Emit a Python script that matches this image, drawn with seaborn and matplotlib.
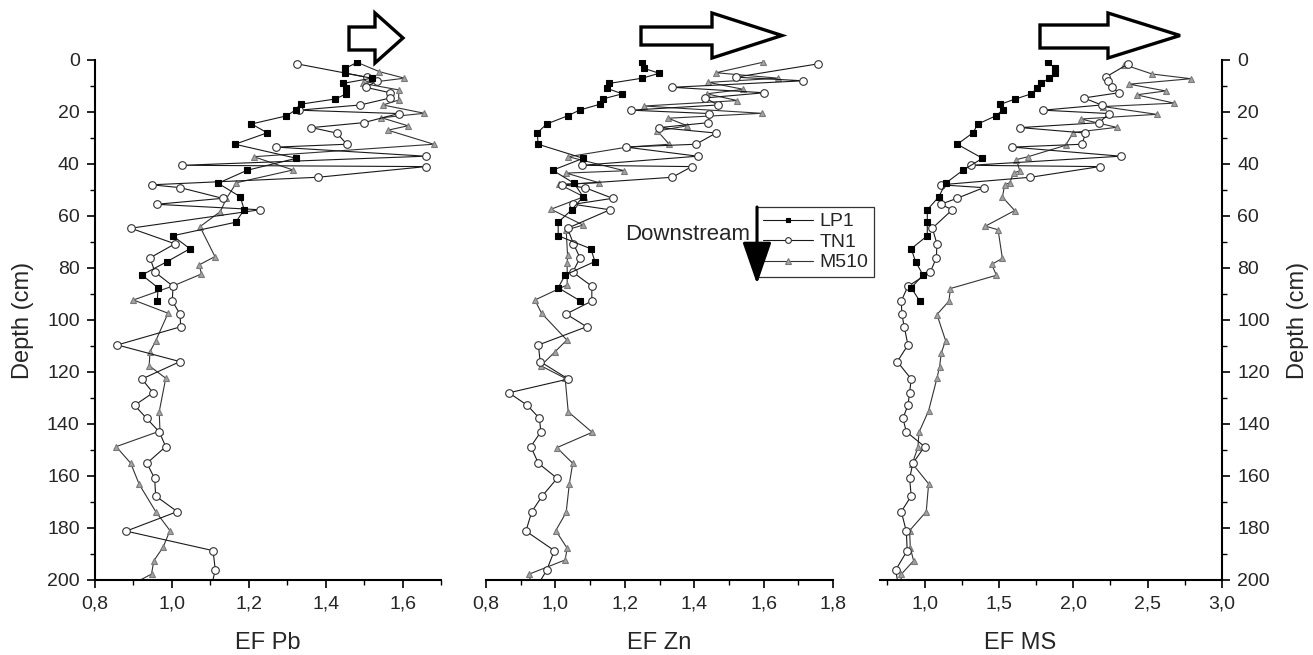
#!/usr/bin/env python
# -*- coding: utf-8 -*-

import matplotlib
matplotlib.use("Agg")
import matplotlib.pyplot as plt
from matplotlib.patches import Polygon, FancyArrowPatch
from matplotlib.ticker import MultipleLocator, FuncFormatter
import seaborn as sns

# ---- data ---------------------------------------------------------------
# LP1 core (same sample depths in every panel)
depth_lp1 = [0.9, 3.2, 5.1, 7.0, 9.0, 10.9, 13.0, 15.0, 17.0, 19.2, 21.5, 24.6, 28.0,
             32.4, 37.8, 42.4, 47.4, 52.6, 57.6, 62.4, 67.6, 72.6, 77.5, 82.7, 87.6, 92.6]
lp1_pb = [1.482, 1.451, 1.451, 1.520, 1.445, 1.454, 1.454, 1.425, 1.335, 1.322, 1.298, 1.207, 1.248,
          1.164, 1.324, 1.196, 1.120, 1.178, 1.188, 1.166, 1.002, 1.047, 0.988, 0.922, 0.964, 0.962]
lp1_zn = [1.250, 1.255, 1.299, 1.250, 1.155, 1.148, 1.193, 1.136, 1.129, 1.071, 1.035, 0.975, 0.948,
          0.950, 1.080, 0.992, 1.054, 1.080, 1.047, 1.008, 1.008, 1.102, 1.114, 1.028, 1.008, 1.071]
lp1_ms = [1.830, 1.880, 1.880, 1.837, 1.786, 1.756, 1.718, 1.611, 1.510, 1.527, 1.478, 1.359, 1.325,
          1.220, 1.389, 1.258, 1.141, 1.096, 1.018, 1.018, 1.018, 0.910, 0.939, 0.989, 0.910, 0.966]

# TN1 core
depth_tn1 = [1.5, 6.6, 8.0, 10.5, 12.6, 14.6, 17.3, 19.3, 20.6, 24.1, 26.0, 28.1, 32.4, 33.5,
             37.0, 40.5, 41.0, 45.1, 48.0, 49.1, 53.2, 55.5, 57.6, 64.7, 70.7, 76.1, 81.6, 87.0,
             92.7, 97.7, 102.6, 109.6, 116.0, 122.7, 128.0, 132.8, 137.8, 143.0, 148.7, 155.1,
             160.9, 167.7, 173.7, 181.2, 188.7, 196.2, 204.0]
tn1_pb = [1.326, 1.507, 1.534, 1.504, 1.568, 1.568, 1.490, 1.330, 1.590, 1.499, 1.363, 1.429, 1.455, 1.272,
          1.660, 1.027, 1.661, 1.380, 0.947, 1.022, 1.132, 0.960, 1.229, 0.893, 1.008, 0.943, 0.956, 1.003,
          1.001, 1.021, 1.023, 0.858, 1.021, 0.922, 0.951, 0.903, 0.934, 0.967, 0.984, 0.935,
          0.955, 0.958, 1.014, 0.881, 1.107, 1.113, 1.100]
tn1_zn = [1.756, 1.520, 1.714, 1.337, 1.602, 1.431, 1.469, 1.217, 1.444, 1.441, 1.299, 1.463, 1.405, 1.203,
          1.410, 1.076, 1.393, 1.337, 1.020, 1.085, 1.165, 1.052, 1.157, 1.035, 1.052, 1.071, 1.050, 1.105,
          1.105, 1.031, 1.090, 0.951, 0.956, 1.037, 0.866, 0.919, 0.954, 0.958, 0.929, 0.951,
          1.005, 0.962, 0.932, 0.915, 0.997, 0.975, 0.940]
tn1_ms = [2.369, 2.217, 2.235, 2.261, 2.306, 2.071, 2.190, 1.797, 2.241, 2.174, 1.644, 2.082, 2.059, 1.590,
          2.320, 1.310, 2.178, 1.712, 1.108, 1.397, 1.218, 1.108, 1.186, 1.052, 1.083, 1.079, 1.038, 0.888,
          0.843, 0.847, 0.863, 0.888, 0.816, 0.910, 0.899, 0.888, 0.854, 0.877, 1.000, 0.921,
          0.899, 0.910, 0.843, 0.877, 0.883, 0.805, 0.830]

# M510 core (points read separately in each panel)
depth_m510_pb = [0.8, 4.5, 7.0, 9.0, 11.5, 15.4, 17.3, 20.5, 22.2, 25.3, 27.0, 32.4, 37.2, 42.3, 47.2,
                 53.2, 58.3, 64.1, 75.6, 78.8, 82.3, 86.9, 92.3, 97.4, 108.0, 112.2, 117.6, 122.4,
                 135.3, 142.7, 148.7, 155.1, 163.2, 173.7, 181.0, 187.4, 192.6, 197.7, 203.0]
m510_pb = [1.480, 1.540, 1.605, 1.497, 1.590, 1.590, 1.549, 1.657, 1.545, 1.614, 1.562, 1.681, 1.213, 1.315,
           1.168, 1.142, 1.126, 1.073, 1.112, 1.071, 1.077, 1.003, 0.900, 0.990, 0.958, 0.943, 0.941,
           0.984, 0.967, 0.969, 0.855, 0.893, 0.915, 0.958, 0.995, 0.977, 0.953, 0.947, 0.880]

depth_m510_zn = [0.9, 4.9, 7.0, 8.6, 11.3, 13.0, 15.6, 17.7, 20.5, 22.4, 25.3, 27.3, 32.4, 33.5, 37.2,
                 42.6, 43.5, 47.2, 47.8, 52.6, 57.4, 63.5, 65.4, 75.0, 78.2, 86.5, 92.3, 97.4, 107.7,
                 112.2, 117.6, 122.4, 135.3, 143.2, 149.1, 155.1, 163.2, 174.0, 181.0, 187.8, 192.3,
                 197.7, 203.0]
m510_zn = [1.597, 1.463, 1.642, 1.441, 1.542, 1.436, 1.524, 1.255, 1.594, 1.325, 1.380, 1.294, 1.328, 1.207,
           1.037, 1.199, 1.031, 1.126, 1.011, 1.082, 0.987, 1.080, 1.031, 1.035, 1.034, 1.034, 0.941,
           0.960, 1.033, 0.999, 0.958, 1.028, 1.037, 1.106, 1.004, 1.050, 1.040, 1.031, 1.001, 1.034,
           1.028, 0.925, 0.930]

depth_m510_ms = [1.8, 5.4, 7.2, 9.3, 11.9, 13.4, 16.6, 17.9, 20.9, 22.7, 25.9, 27.9, 32.8, 37.2, 38.3,
                 42.6, 43.5, 47.2, 48.0, 52.7, 57.9, 63.9, 65.3, 76.3, 78.6, 82.8, 87.9, 92.7, 97.9,
                 107.9, 112.7, 117.9, 122.4, 134.9, 143.2, 149.0, 155.2, 163.0, 173.7, 181.0, 187.7,
                 192.6, 197.8, 203.0]
m510_ms = [2.342, 2.531, 2.791, 2.376, 2.621, 2.425, 2.679, 2.200, 2.560, 2.051, 2.291, 1.999, 1.949, 1.696,
           1.617, 1.640, 1.599, 1.572, 1.539, 1.523, 1.606, 1.409, 1.494, 1.523, 1.451, 1.483, 1.173,
           1.164, 1.083, 1.141, 1.112, 1.101, 1.083, 1.027, 0.962, 0.955, 0.917, 1.027, 1.011, 0.899,
           0.904, 0.926, 0.843, 0.840]

W, H = 1313, 655


def px_box(left, right, top, bottom):
    return [left / W, 1 - bottom / H, (right - left) / W, (bottom - top) / H]


def px(x, y):
    return (x / W, 1 - y / H)


def comma(v, pos):
    return ("%.1f" % v).replace(".", ",")


def block_arrow(fig, x0, xh, xt, sy0, sy1, hy0, hy1):
    # hollow arrow pointing right, coordinates in pixels
    ym = (hy0 + hy1) / 2.0
    pts = [px(x0, sy0), px(xh, sy0), px(xh, hy0), px(xt, ym),
           px(xh, hy1), px(xh, sy1), px(x0, sy1)]
    fig.add_artist(Polygon(pts, closed=True, fill=False, edgecolor="black",
                           lw=2.4, joinstyle="miter", transform=fig.transFigure))


def main():
    sns.set_style("ticks")
    plt.rcParams["font.family"] = ["Liberation Sans", "DejaVu Sans"]
    plt.rcParams["axes.linewidth"] = 1.5

    fig = plt.figure(figsize=(W / 100, H / 100), dpi=100)
    axL = fig.add_axes(px_box(95, 441, 60, 580))
    axM = fig.add_axes(px_box(486, 833, 60, 580))
    axR = fig.add_axes(px_box(880, 1222, 60, 580))

    lp1_kw = dict(marker="s", markersize=4.5, markerfacecolor="black",
                  markeredgecolor="black", color="#1a1a1a")
    tn1_kw = dict(marker="o", markersize=5.5, markerfacecolor="white",
                  markeredgecolor="#333333", color="#1a1a1a")
    m510_kw = dict(marker="^", markersize=5, markerfacecolor="#a3a3a3",
                   markeredgecolor="#7a7a7a", color="#333333")

    panels = [
        (axL, m510_pb, depth_m510_pb, tn1_pb, lp1_pb),
        (axM, m510_zn, depth_m510_zn, tn1_zn, lp1_zn),
        (axR, m510_ms, depth_m510_ms, tn1_ms, lp1_ms),
    ]
    for ax, m_x, m_y, t_x, l_x in panels:
        sns.lineplot(x=m_x, y=m_y, sort=False, estimator=None, lw=0.8,
                     markeredgewidth=0.8, label="M510", legend=False, ax=ax, **m510_kw)
        sns.lineplot(x=t_x, y=depth_tn1, sort=False, estimator=None, lw=0.8,
                     markeredgewidth=0.8, label="TN1", legend=False, ax=ax, **tn1_kw)
        sns.lineplot(x=l_x, y=depth_lp1, sort=False, estimator=None, lw=0.8,
                     markeredgewidth=0.8, label="LP1", legend=False, ax=ax, **lp1_kw)

        ax.set_ylim(200, 0)
        ax.yaxis.set_major_locator(MultipleLocator(20))
        ax.yaxis.set_minor_locator(MultipleLocator(10))
        ax.xaxis.set_major_formatter(FuncFormatter(comma))
        ax.tick_params(which="major", direction="out", length=6, width=1.2,
                       labelsize=14, pad=5, color="black")
        ax.tick_params(which="minor", direction="out", length=3.5, width=1.0, color="black")
        ax.spines["top"].set_visible(False)
        for s in ax.spines.values():
            s.set_color("black")
        ax.set_facecolor("white")

    axL.set_xlim(0.8, 1.7)
    axM.set_xlim(0.8, 1.8)
    axR.set_xlim(0.7, 3.0)
    for ax in (axL, axM):
        ax.xaxis.set_major_locator(MultipleLocator(0.2))
        ax.xaxis.set_minor_locator(MultipleLocator(0.1))
    axR.xaxis.set_major_locator(MultipleLocator(0.5))
    axR.xaxis.set_minor_locator(MultipleLocator(0.25))

    axL.spines["right"].set_visible(False)
    axM.spines["right"].set_visible(False)
    axM.spines["left"].set_visible(False)
    axM.tick_params(axis="y", which="both", left=False, labelleft=False)
    axR.spines["left"].set_visible(False)
    axR.yaxis.tick_right()
    axR.yaxis.set_label_position("right")

    axL.set_xlabel("EF Pb", fontsize=17)
    axM.set_xlabel("EF Zn", fontsize=17)
    axR.set_xlabel("EF MS", fontsize=17)
    axL.xaxis.set_label_coords(0.5, -0.1)
    axM.xaxis.set_label_coords(0.5, -0.1)
    axR.xaxis.set_label_coords(0.41, -0.1)
    axL.set_ylabel("Depth (cm)", fontsize=17)
    axR.set_ylabel("Depth (cm)", fontsize=17)
    axL.yaxis.set_label_coords(-0.175, 0.5)
    axR.yaxis.set_label_coords(1.19, 0.5)

    # legend with the downstream arrow on its left edge
    handles, labels = axL.get_legend_handles_labels()
    order = [labels.index(n) for n in ("LP1", "TN1", "M510")]
    leg = fig.legend([handles[i] for i in order], [labels[i] for i in order],
                     loc="upper left", bbox_to_anchor=px(757, 207), frameon=True,
                     fancybox=False, edgecolor="#333333", framealpha=1, fontsize=14,
                     handlelength=2.6, borderaxespad=0, borderpad=0.3,
                     labelspacing=0.15, handletextpad=0.3, markerscale=0.75)
    leg.get_frame().set_linewidth(0.9)

    down = FancyArrowPatch(posA=px(757, 207), posB=px(757, 284), transform=fig.transFigure,
                           arrowstyle="-|>,head_length=2.6,head_width=0.9", mutation_scale=10,
                           lw=2.2, color="black", shrinkA=0, shrinkB=0, zorder=10)
    fig.add_artist(down)
    fig.text(750 / W, 1 - 234 / H, "Downstream", ha="right", va="center", fontsize=16)

    # hollow arrows above each panel
    block_arrow(fig, 349, 375, 403, 27, 50, 13, 63)
    block_arrow(fig, 641, 712, 782, 27, 45, 13, 58)
    block_arrow(fig, 1040, 1108, 1180, 25, 48, 13, 58)

    fig.savefig("out.png", dpi=100, facecolor="white")


if __name__ == "__main__":
    main()
